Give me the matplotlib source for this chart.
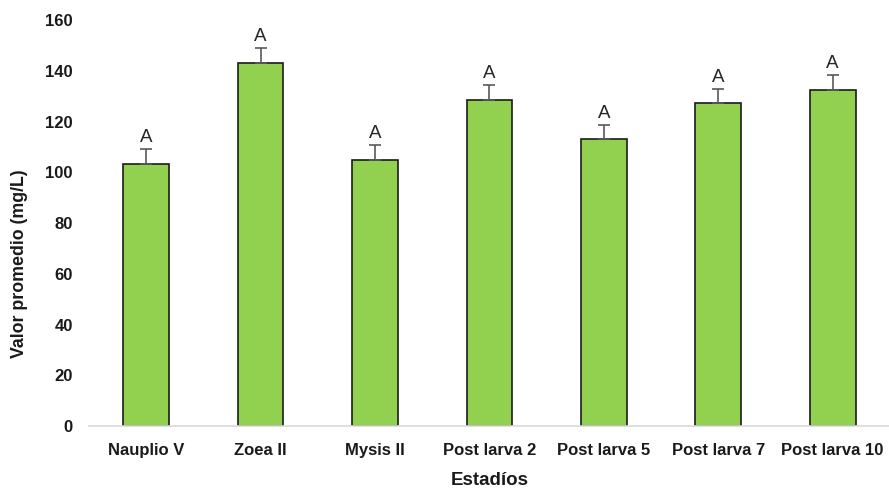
import matplotlib
matplotlib.use('Agg')
import matplotlib.pyplot as plt
import numpy as np

estadios = ['Nauplio V', 'Zoea II', 'Mysis II', 'Post larva 2', 'Post larva 5', 'Post larva 7', 'Post larva 10']
promedio = [103.3, 143.0, 104.8, 128.5, 113.1, 127.3, 132.4]
error = [5.8, 5.9, 5.9, 5.9, 5.5, 5.7, 5.9]
letras = ['A', 'A', 'A', 'A', 'A', 'A', 'A']

plt.rcParams['font.family'] = ['Liberation Sans', 'DejaVu Sans']

fig = plt.figure(figsize=(8.89, 4.91), dpi=100)
ax = fig.add_axes([0.1, 0.132, 0.901, 0.827])

x = np.arange(len(estadios))
# solo la parte superior del error
ax.bar(x, promedio, width=0.40, color='#92D050', edgecolor='#1a1a1a', linewidth=1.2,
       yerr=[np.zeros(len(error)), error],
       error_kw=dict(ecolor='#595959', elinewidth=1.2, capsize=4, capthick=1.2))

for xi, v, e, l in zip(x, promedio, error, letras):
    ax.text(xi, v + e + 1.2, l, ha='center', va='bottom', fontsize=13.5, color='#262626')

ax.set_xlim(-0.5, len(estadios) - 0.5)
ax.set_ylim(0, 160)
ax.set_yticks(np.arange(0, 161, 20))
ax.set_xticks(x)
ax.set_xticklabels(estadios, fontsize=12, fontweight='bold', color='#1a1a1a')
for t in ax.get_yticklabels():
    t.set_fontsize(12)
    t.set_fontweight('bold')
    t.set_color('#1a1a1a')

for s in ['top', 'right', 'left']:
    ax.spines[s].set_visible(False)
ax.spines['bottom'].set_color('#d9d9d9')
ax.spines['bottom'].set_linewidth(1.2)
ax.tick_params(axis='both', length=0)
ax.tick_params(axis='y', pad=11.5)
ax.tick_params(axis='x', pad=12)

ax.set_ylabel('Valor promedio (mg/L)', fontsize=12.8, fontweight='bold', color='#1a1a1a')
ax.yaxis.set_label_coords(-0.076, 0.40)
ax.set_xlabel('Estadíos', fontsize=13.5, fontweight='bold', color='#1a1a1a', labelpad=10)

fig.savefig('out.png', dpi=100)
